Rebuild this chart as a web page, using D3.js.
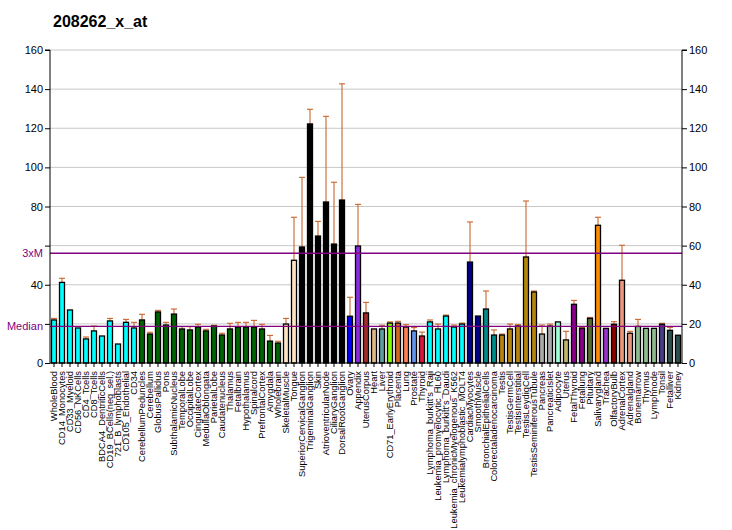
<!DOCTYPE html>
<html>
<head>
<meta charset="utf-8">
<script src="https://cdn.jsdelivr.net/npm/d3@7"></script>
<style>
body{margin:0;background:#fff;}
svg{display:block;}
text{font-family:Arial,"Liberation Sans",sans-serif;}
</style>
</head>
<body>
<script>
const categories = ["WholeBlood","CD14_Monocytes","CD33_Myeloid","CD56_NKCells","CD4_Tcells","CD8_Tcells","BDCA4_DentriticCells","CD19_BCells(neg_sel.)","721_B_lymphoblasts","CD105_Endothelial","CD34","CerebellumPeduncles","Cerebellum","GlobusPallidus","Pons","SubthalamicNucleus","TemporalLobe","OccipitalLobe","CingulateCortex","MedullaOblongata","ParietalLobe","Caudatenucleus","Thalamus","Fetalbrain","Hypothalamus","Spinalcord","PrefrontalCortex","Amygdala","Wholebrain","SkeletalMuscle","Tongue","SuperiorCervicalGanglion","TrigeminalGanglion","Skin","AtrioventricularNode","CiliaryGanglion","DorsalRootGanglion","Ovary","Appendix","UterusCorpus","Heart","Liver","CD71_EarlyErythroid","Placenta","Lung","Prostate","Thyroid","Lymphoma_burkitt's_Raji","Leukemia_promyelocytic_HL60","Lymphoma_burkitt's_Daudi","Leukemia_chronicMyelogenous_K562","Leukemialymphoblastic_MOLT4","CardiacMyocytes","SmoothMuscle","BronchialEpithelialCells","Colorectaladenocarcinoma","Testis","TestisGermCell","TestisInterstitial","TestisLeydigCell","TestisSeminiferousTubule","Pancreas","PancreaticIslet","Adipocyte","Uterus","FetalThyroid","Fetallung","Pituitary","Salivarygland","Trachea","OlfactoryBulb","AdrenalCortex","Adrenalgland","Bonemarrow","Thymus","Lymphnode","Tonsil","Fetalliver","Kidney"];

const values = [22.0,41.2,27.1,17.9,12.3,16.4,13.8,21.5,9.7,20.8,17.9,22.0,14.8,26.1,19.4,25.0,17.4,16.9,18.4,16.4,18.9,14.3,17.4,18.4,18.4,18.4,17.4,11.2,10.2,19.9,52.5,59.3,122.2,64.9,82.3,60.8,83.3,23.9,59.8,25.6,17.4,17.4,20.4,20.4,18.4,16.4,13.8,21.0,17.4,24.0,18.4,19.9,51.6,24.0,27.6,14.3,14.3,17.4,18.9,54.2,36.3,14.8,18.9,21.0,11.8,30.0,17.7,22.8,70.4,17.7,19.8,42.3,15.2,18.7,17.7,17.7,19.8,16.7,14.2];

const errTops = [22.8,43.3,27.4,17.9,13.3,18.9,13.8,22.8,10.0,22.3,20.8,24.9,15.7,26.9,20.8,27.6,18.6,18.6,19.8,17.2,19.3,15.2,20.3,20.8,20.8,21.8,19.8,14.1,11.1,22.8,74.5,94.9,129.7,72.4,126.1,92.4,142.7,33.6,81.1,31.0,17.4,19.3,21.0,21.3,19.6,18.1,15.8,22.0,19.9,24.5,19.4,20.4,72.1,24.0,36.8,16.9,14.8,19.9,19.6,82.8,36.8,19.4,19.9,21.0,16.2,32.0,18.2,23.3,74.5,17.7,21.1,60.2,16.2,22.3,17.7,17.7,20.3,18.2,14.2];

const colors = ["#00FFFF","#00FFFF","#00FFFF","#00FFFF","#00FFFF","#00FFFF","#00FFFF","#00FFFF","#00FFFF","#00FFFF","#00FFFF",
"#006400","#006400","#006400","#006400","#006400","#006400","#006400","#006400","#006400","#006400","#006400","#006400","#006400","#006400","#006400","#006400","#006400","#006400",
"#FFE4C4","#FFE4C4",
"#000000","#000000","#000000","#000000","#000000","#000000",
"#0000FF","#8A2BE2","#A52A2A","#DEB887","#5F9EA0","#7FFF00","#D2691E","#FF7F50","#6495ED","#DC143C",
"#00FFFF","#00FFFF","#00FFFF","#00FFFF","#00FFFF",
"#00008B","#00008B","#008B8B","#008B8B",
"#B8860B","#B8860B","#B8860B","#B8860B","#B8860B",
"#A9A9A9","#A9A9A9","#9FFFD4","#BDB76B","#8B008B","#8B008B","#556B2F","#FF8C00","#9932CC","#8B0000",
"#E9967A","#E9967A","#8FBC8F","#8FBC8F","#8FBC8F","#483D8B","#2F4F4F","#2F4F4F"];

const yTicks = [0,20,40,60,80,100,120,140,160];
const leftTickLabels = ["0","","40","","80","100","120","140","160"];
const median = 18.7;
const threeXM = 56.1;
const title = "208262_x_at";

const W = 732, H = 530;
const svg = d3.select("body").append("svg").attr("width", W).attr("height", H);

const x = d3.scaleBand().domain(categories).range([50, 682]).paddingInner(0.25).paddingOuter(0.125);
const y = d3.scaleLinear().domain([0, 160]).range([363, 50]);

// title
svg.append("text").attr("x", 53).attr("y", 27).attr("font-size", 16).attr("font-weight", "bold")
  .attr("fill", "#000").text(title);

// gridlines
svg.append("g").selectAll("line").data(yTicks.filter(d => d > 0)).join("line")
  .attr("x1", 50).attr("x2", 682).attr("y1", d => y(d)).attr("y2", d => y(d))
  .attr("stroke", "#c8c8c8").attr("stroke-width", 1);

const data = categories.map((c, i) => ({c, v: values[i], e: errTops[i], col: colors[i]}));

// error bars
const eb = svg.append("g").attr("stroke", "#C8642A").attr("stroke-width", 1.1);
data.filter(d => d.e > d.v + 0.3).forEach(d => {
  const cx = x(d.c) + x.bandwidth() / 2;
  eb.append("line").attr("x1", cx).attr("x2", cx).attr("y1", y(d.v)).attr("y2", y(d.e));
  eb.append("line").attr("x1", cx - 3).attr("x2", cx + 3).attr("y1", y(d.e)).attr("y2", y(d.e));
});

// bars
svg.append("g").selectAll("rect").data(data).join("rect")
  .attr("x", d => x(d.c) + 0.5).attr("width", x.bandwidth() - 1)
  .attr("y", d => y(d.v)).attr("height", d => y(0) - y(d.v))
  .attr("fill", d => d.col).attr("stroke", "#000").attr("stroke-width", 1.3);

// median lines
[[median, "Median"], [threeXM, "3xM"]].forEach(([v, lab]) => {
  svg.append("line").attr("x1", 50).attr("x2", 682).attr("y1", y(v)).attr("y2", y(v))
    .attr("stroke", "#800080").attr("stroke-width", 1.3);
  svg.append("text").attr("x", 43).attr("y", y(v)).attr("dy", "0.35em").attr("text-anchor", "end")
    .attr("font-size", 11).attr("fill", "#800080").text(lab);
});

// left axis
const la = svg.append("g").attr("transform", "translate(50,0)")
  .call(d3.axisLeft(y).tickValues(yTicks).tickSize(5).tickPadding(2).tickFormat((d, i) => leftTickLabels[i]));
la.selectAll("text").attr("font-size", 11).attr("fill", "#000").style("font-family", "Arial,'Liberation Sans',sans-serif");
la.select(".domain").attr("d", `M-5,${y(160)}H0V${y(0)}`).attr("stroke", "#000");

// right axis
const ra = svg.append("g").attr("transform", "translate(682,0)")
  .call(d3.axisRight(y).tickValues(yTicks).tickSize(5).tickPadding(2));
ra.selectAll("text").attr("font-size", 11).attr("fill", "#000").style("font-family", "Arial,'Liberation Sans',sans-serif");
ra.select(".domain").attr("d", `M5,${y(160)}H0V${y(0)}`).attr("stroke", "#000");

// x axis
const xa = svg.append("g").attr("transform", "translate(0,363)")
  .call(d3.axisBottom(x).tickSize(4).tickSizeOuter(0));
xa.select(".domain").attr("d", "M50,0H682").attr("stroke", "#000");
xa.selectAll("text").attr("font-size", 9.3).attr("fill", "#000")
  .style("font-family", "Arial,'Liberation Sans',sans-serif")
  .attr("text-anchor", "end").attr("transform", "rotate(-90)")
  .attr("x", -8).attr("y", 0).attr("dy", "0.35em");
</script>
</body>
</html>
